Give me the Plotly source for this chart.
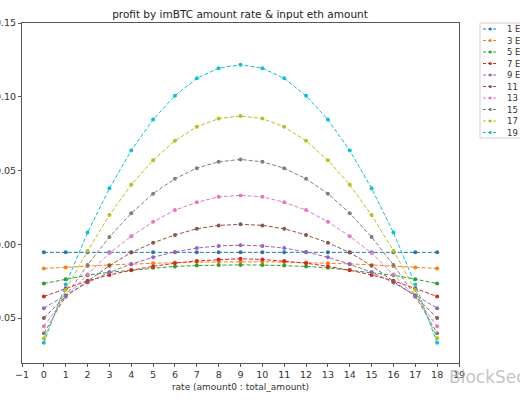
import plotly.graph_objects as go

# rate steps on the x axis
rates = list(range(19))

# profit per input eth amount
eth_1 = [-0.0055, -0.0055, -0.0055, -0.0055, -0.0055, -0.0055, -0.0055, -0.0055, -0.0055, -0.0055,
         -0.0055, -0.0055, -0.0055, -0.0055, -0.0055, -0.0055, -0.0055, -0.0055, -0.0055]
eth_3 = [-0.0164, -0.0158, -0.0148, -0.0140, -0.0133, -0.0128, -0.0124, -0.0121, -0.0119, -0.0118,
         -0.0119, -0.0121, -0.0124, -0.0128, -0.0133, -0.0140, -0.0148, -0.0158, -0.0164]
eth_5 = [-0.0266, -0.0237, -0.0210, -0.0190, -0.0175, -0.0160, -0.0150, -0.0144, -0.0141, -0.0140,
         -0.0141, -0.0144, -0.0150, -0.0160, -0.0175, -0.0190, -0.0210, -0.0237, -0.0266]
eth_7 = [-0.0354, -0.0300, -0.0248, -0.0208, -0.0176, -0.0150, -0.0128, -0.0113, -0.0103, -0.0098,
         -0.0103, -0.0113, -0.0128, -0.0150, -0.0176, -0.0208, -0.0248, -0.0300, -0.0354]
eth_9 = [-0.0433, -0.0345, -0.0260, -0.0190, -0.0135, -0.0088, -0.0052, -0.0026, -0.0011, -0.0006,
         -0.0011, -0.0026, -0.0052, -0.0088, -0.0135, -0.0190, -0.0260, -0.0345, -0.0433]
eth_11 = [-0.0500, -0.0352, -0.0252, -0.0145, -0.0056, 0.0010, 0.0063, 0.0105, 0.0128, 0.0135,
          0.0128, 0.0105, 0.0063, 0.0010, -0.0056, -0.0145, -0.0252, -0.0352, -0.0500]
eth_13 = [-0.0556, -0.0358, -0.0205, -0.0060, 0.0054, 0.0152, 0.0232, 0.0284, 0.0322, 0.0331,
          0.0322, 0.0284, 0.0232, 0.0152, 0.0054, -0.0060, -0.0205, -0.0358, -0.0556]
eth_15 = [-0.0604, -0.0350, -0.0140, 0.0049, 0.0210, 0.0343, 0.0444, 0.0516, 0.0559, 0.0575,
          0.0559, 0.0516, 0.0444, 0.0343, 0.0210, 0.0049, -0.0140, -0.0350, -0.0604]
eth_17 = [-0.0638, -0.0310, -0.0045, 0.0198, 0.0403, 0.0570, 0.0701, 0.0796, 0.0852, 0.0870,
          0.0852, 0.0796, 0.0701, 0.0570, 0.0403, 0.0198, -0.0045, -0.0310, -0.0638]
eth_19 = [-0.0667, -0.0273, 0.0079, 0.0379, 0.0636, 0.0845, 0.1007, 0.1125, 0.1194, 0.1217,
          0.1194, 0.1125, 0.1007, 0.0845, 0.0636, 0.0379, 0.0079, -0.0273, -0.0667]

names = ["1 ETH", "3 ETH", "5 ETH", "7 ETH", "9 ETH", "11 ETH", "13 ETH", "15 ETH", "17 ETH", "19 ETH"]
series = [eth_1, eth_3, eth_5, eth_7, eth_9, eth_11, eth_13, eth_15, eth_17, eth_19]

# matplotlib tab10
colors = ["#1f77b4", "#ff7f0e", "#2ca02c", "#d62728", "#9467bd",
          "#8c564b", "#e377c2", "#7f7f7f", "#bcbd22", "#17becf"]

fig = go.Figure()

for name, vals, col in zip(names, series, colors):
    fig.add_trace(go.Scatter(
        x=rates, y=vals, name=name, mode="lines+markers",
        line=dict(color=col, width=1, dash="4px,2px"),
        marker=dict(color=col, size=4),
        showlegend=False,
    ))

font = "DejaVu Sans, sans-serif"

W, H = 520, 400
fig.update_layout(
    width=W, height=H,
    margin=dict(l=22, r=61, t=23, b=37, autoexpand=False),
    paper_bgcolor="white", plot_bgcolor="white",
    font=dict(family=font, size=9.5, color="#333"),
    title=dict(text="profit by imBTC amount rate & input eth amount",
               x=240 / W, xanchor="center", y=1 - 14 / H, yanchor="middle",
               font=dict(size=10.5, color="#222")),
)

fig.update_xaxes(range=[-1, 19], dtick=1, tick0=-1, showgrid=False, zeroline=False,
                 showline=True, linecolor="#555", linewidth=1, mirror=True,
                 ticks="outside", ticklen=3, tickcolor="#555", automargin=False,
                 title=dict(text="rate (amount0 : total_amount)", standoff=4,
                            font=dict(size=9, color="#333")))
fig.update_yaxes(range=[-0.0805, 0.15], tickvals=[-0.05, 0, 0.05, 0.10, 0.15],
                 tickformat=".2f", showgrid=False, zeroline=False,
                 showline=True, linecolor="#555", linewidth=1, mirror=True,
                 ticks="outside", ticklen=3, tickcolor="#555", automargin=False)

# hand-drawn legend box (matplotlib-like spacing); x, y are window pixels
pw, ph = W - 22 - 61, H - 23 - 37
def px(x):
    return (x - 22) / pw
def py(y):
    return (363 - y) / ph

shapes = [dict(type="rect", xref="paper", yref="paper",
               x0=px(480), x1=px(530), y0=py(138), y1=py(23),
               line=dict(color="#d0d0d0", width=1), fillcolor="white", layer="above")]
annotations = []
for i, (name, col) in enumerate(zip(names, colors)):
    yy = 29 + 11.5 * i
    shapes.append(dict(type="line", xref="paper", yref="paper",
                       x0=px(483), x1=px(498), y0=py(yy), y1=py(yy),
                       line=dict(color=col, width=1, dash="3px,2px"), layer="above"))
    shapes.append(dict(type="circle", xref="paper", yref="paper",
                       x0=px(488.8), x1=px(491.8), y0=py(yy + 1.5), y1=py(yy - 1.5),
                       line=dict(color=col, width=0), fillcolor=col, layer="above"))
    annotations.append(dict(text=name, xref="paper", yref="paper", x=px(505), y=py(yy),
                            xanchor="left", yanchor="middle", showarrow=False,
                            font=dict(size=8.5, color="#333")))

# watermark
annotations.append(dict(text="BlockSec", xref="paper", yref="paper", x=px(447), y=py(377),
                        xanchor="left", yanchor="middle", showarrow=False,
                        font=dict(size=17, color="rgba(170,170,170,0.7)")))

fig.update_layout(shapes=shapes, annotations=annotations)

# drop the browser's default body margin so the figure sits at the window corner
fig.write_html("out.html", config={"displayModeBar": False},
               post_script="document.body.style.margin='0';")
